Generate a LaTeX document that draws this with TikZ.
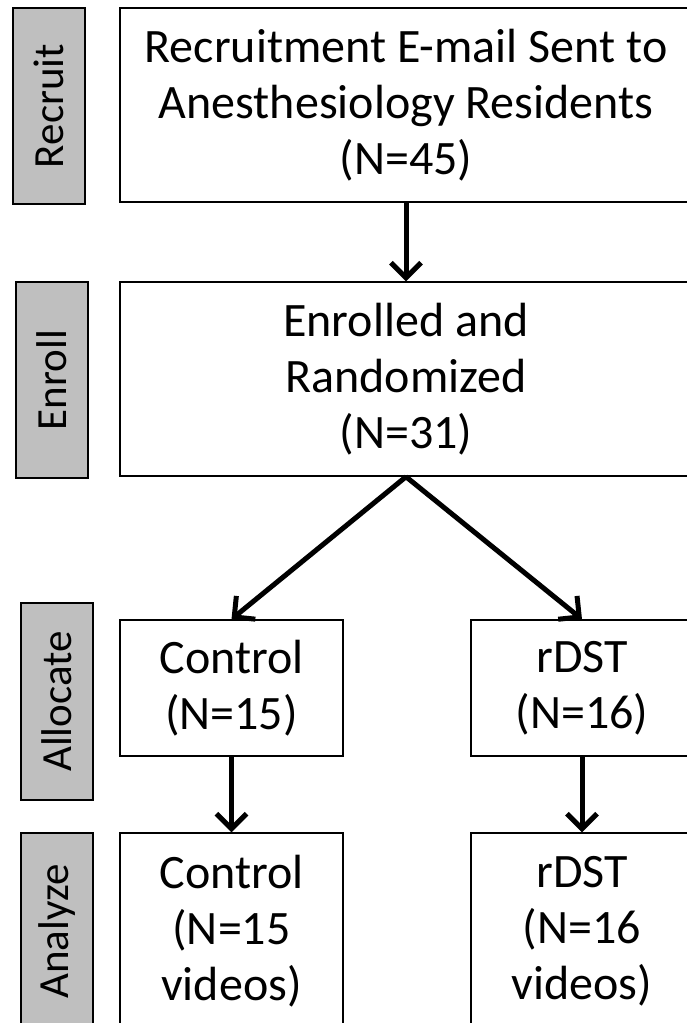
\documentclass[tikz,border=0pt]{standalone}
\usepackage{fontspec}
\setmainfont{Carlito}
\usetikzlibrary{arrows.meta}
\definecolor{labelgray}{RGB}{191,191,191}
\tikzset{
  side/.style={draw=black, line width=1.8pt, fill=labelgray, rotate=90, minimum height=72pt, inner sep=0pt, font=\fontsize{43}{50}\selectfont},
  mainbox/.style={draw=black, line width=1.5pt, fill=white, inner sep=0pt, align=center, font=\fontsize{48}{56}\selectfont},
  arr/.style={line width=5pt, -{Straight Barb[length=15pt,width=30pt,line width=5pt]}}
}
\begin{document}
\begin{tikzpicture}[x=1pt,y=-1pt]
\useasboundingbox (0,0) rectangle (687,1023);
\clip (0,0) rectangle (687,1023);
\fill[white] (0,0) rectangle (687,1023);
% side labels
\node[side, minimum width=196pt] (lrec) at (49,106) {Recruit};
\node[side, minimum width=196pt] (lenr) at (52,380) {Enroll};
\node[side, minimum width=197pt] (lall) at (57,701.5) {Allocate};
\node[side, minimum width=197pt] (lana) at (57,931.5) {Analyze};
% main boxes
\node[mainbox, minimum width=572pt, minimum height=194pt] (b1) at (406,105) {Recruitment E-mail Sent to\\Anesthesiology Residents\\(N=45)};
\node[mainbox, minimum width=572pt, minimum height=194pt] (b2) at (406,379) {Enrolled and\\Randomized\\(N=31)};
\node[mainbox, minimum width=223pt, minimum height=136pt] (c1) at (231.5,688) {Control\\(N=15)};
\node[mainbox, minimum width=222pt, minimum height=136pt] (r1) at (582,688) {rDST\\(N=16)};
\node[mainbox, minimum width=223pt, minimum height=197pt] (c2) at (231.5,931.5) {Control\\(N=15\\videos)};
\node[mainbox, minimum width=222pt, minimum height=197pt] (r2) at (582,931.5) {rDST\\(N=16\\videos)};
% arrows
\draw[arr] (b1.south) -- (b2.north);
\draw[arr] (b2.south) -- (c1.north);
\draw[arr] (b2.south) -- (r1.north);
\draw[arr] (c1.south) -- (c2.north);
\draw[arr] (r1.south) -- (r2.north);
\end{tikzpicture}
\end{document}
